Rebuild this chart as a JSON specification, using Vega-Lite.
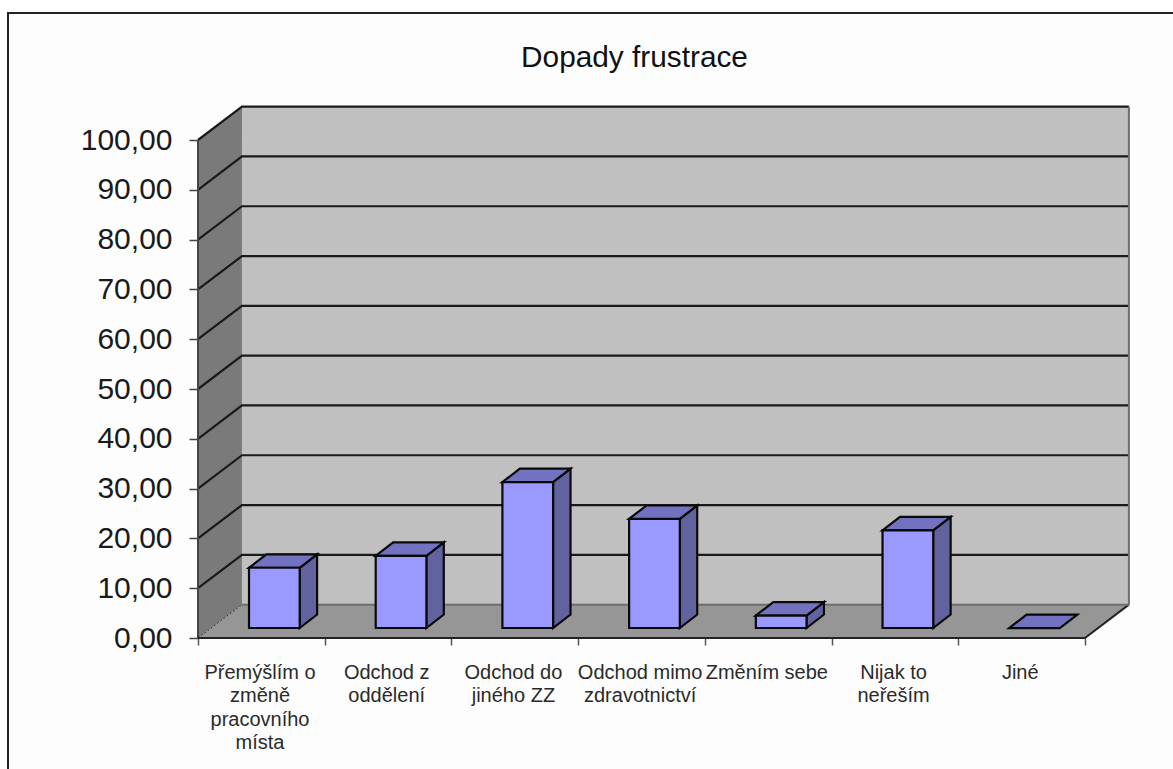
{
  "$schema": "https://vega.github.io/schema/vega-lite/v6.json",
  "width": 1165,
  "height": 756,
  "padding": {"left": 8, "top": 13, "right": 0, "bottom": 0},
  "autosize": {"type": "none"},
  "background": "white",
  "title": {
    "text": "Dopady frustrace",
    "font": "Liberation Sans",
    "fontSize": 29.8,
    "fontWeight": "normal",
    "color": "#111111",
    "anchor": "middle",
    "frame": "group",
    "offset": 0,
    "dx": 44,
    "dy": 64
  },
  "config": {"view": {"fill": "#fdfdfd", "stroke": null}},
  "datasets": {
    "bars": [
      {"category": "Přemýšlím o\nzměně\npracovního\nmísta", "slot": 0, "value": 12.1},
      {"category": "Odchod z\noddělení", "slot": 1, "value": 14.5},
      {"category": "Odchod do\njiného ZZ", "slot": 2, "value": 29.3},
      {"category": "Odchod mimo\nzdravotnictví", "slot": 3, "value": 21.9},
      {"category": "Změním sebe", "slot": 4, "value": 2.5},
      {"category": "Nijak to\nneřeším", "slot": 5, "value": 19.6},
      {"category": "Jiné", "slot": 6, "value": 0}
    ],
    "surfaces": [
      {"part": "floor", "face": "floor", "x": 0, "low": 0, "high": 0},
      {"part": "floor", "face": "floor", "x": 0.347, "low": 0, "high": 6.7},
      {"part": "floor", "face": "floor", "x": 7, "low": 0, "high": 6.7},
      {"part": "floor", "face": "floor", "x": 7.347, "low": 6.7, "high": 6.7},
      {"part": "side", "face": "sideWall", "x": 0, "low": 0, "high": 100},
      {"part": "side", "face": "sideWall", "x": 0.347, "low": 6.7, "high": 106.7},
      {"part": "back", "face": "backWall", "x": 0.347, "low": 6.7, "high": 106.7},
      {"part": "back", "face": "backWall", "x": 7.347, "low": 6.7, "high": 106.7}
    ],
    "barFaces": [
      {"part": "s0", "face": "barSide", "x": 0.802, "low": 2, "high": 14.1},
      {"part": "s0", "face": "barSide", "x": 0.94, "low": 4.71, "high": 16.81},
      {"part": "t0", "face": "barTop", "x": 0.402, "low": 14.1, "high": 14.1},
      {"part": "t0", "face": "barTop", "x": 0.54, "low": 14.1, "high": 16.81},
      {"part": "t0", "face": "barTop", "x": 0.802, "low": 14.1, "high": 16.81},
      {"part": "t0", "face": "barTop", "x": 0.94, "low": 16.81, "high": 16.81},
      {"part": "s1", "face": "barSide", "x": 1.802, "low": 2, "high": 16.5},
      {"part": "s1", "face": "barSide", "x": 1.94, "low": 4.71, "high": 19.21},
      {"part": "t1", "face": "barTop", "x": 1.402, "low": 16.5, "high": 16.5},
      {"part": "t1", "face": "barTop", "x": 1.54, "low": 16.5, "high": 19.21},
      {"part": "t1", "face": "barTop", "x": 1.802, "low": 16.5, "high": 19.21},
      {"part": "t1", "face": "barTop", "x": 1.94, "low": 19.21, "high": 19.21},
      {"part": "s2", "face": "barSide", "x": 2.802, "low": 2, "high": 31.3},
      {"part": "s2", "face": "barSide", "x": 2.94, "low": 4.71, "high": 34.01},
      {"part": "t2", "face": "barTop", "x": 2.402, "low": 31.3, "high": 31.3},
      {"part": "t2", "face": "barTop", "x": 2.54, "low": 31.3, "high": 34.01},
      {"part": "t2", "face": "barTop", "x": 2.802, "low": 31.3, "high": 34.01},
      {"part": "t2", "face": "barTop", "x": 2.94, "low": 34.01, "high": 34.01},
      {"part": "s3", "face": "barSide", "x": 3.802, "low": 2, "high": 23.9},
      {"part": "s3", "face": "barSide", "x": 3.94, "low": 4.71, "high": 26.61},
      {"part": "t3", "face": "barTop", "x": 3.402, "low": 23.9, "high": 23.9},
      {"part": "t3", "face": "barTop", "x": 3.54, "low": 23.9, "high": 26.61},
      {"part": "t3", "face": "barTop", "x": 3.802, "low": 23.9, "high": 26.61},
      {"part": "t3", "face": "barTop", "x": 3.94, "low": 26.61, "high": 26.61},
      {"part": "s4", "face": "barSide", "x": 4.802, "low": 2, "high": 4.5},
      {"part": "s4", "face": "barSide", "x": 4.94, "low": 4.71, "high": 7.21},
      {"part": "t4", "face": "barTop", "x": 4.402, "low": 4.5, "high": 4.5},
      {"part": "t4", "face": "barTop", "x": 4.54, "low": 4.5, "high": 7.21},
      {"part": "t4", "face": "barTop", "x": 4.802, "low": 4.5, "high": 7.21},
      {"part": "t4", "face": "barTop", "x": 4.94, "low": 7.21, "high": 7.21},
      {"part": "s5", "face": "barSide", "x": 5.802, "low": 2, "high": 21.6},
      {"part": "s5", "face": "barSide", "x": 5.94, "low": 4.71, "high": 24.31},
      {"part": "t5", "face": "barTop", "x": 5.402, "low": 21.6, "high": 21.6},
      {"part": "t5", "face": "barTop", "x": 5.54, "low": 21.6, "high": 24.31},
      {"part": "t5", "face": "barTop", "x": 5.802, "low": 21.6, "high": 24.31},
      {"part": "t5", "face": "barTop", "x": 5.94, "low": 24.31, "high": 24.31},
      {"part": "t6", "face": "barTop", "x": 6.402, "low": 2, "high": 2},
      {"part": "t6", "face": "barTop", "x": 6.54, "low": 2, "high": 4.71},
      {"part": "t6", "face": "barTop", "x": 6.802, "low": 2, "high": 4.71},
      {"part": "t6", "face": "barTop", "x": 6.94, "low": 4.71, "high": 4.71}
    ],
    "gridLines": [
      {"level": 10, "x": 0, "y": 10}, {"level": 10, "x": 0.347, "y": 16.7}, {"level": 10, "x": 7.347, "y": 16.7},
      {"level": 20, "x": 0, "y": 20}, {"level": 20, "x": 0.347, "y": 26.7}, {"level": 20, "x": 7.347, "y": 26.7},
      {"level": 30, "x": 0, "y": 30}, {"level": 30, "x": 0.347, "y": 36.7}, {"level": 30, "x": 7.347, "y": 36.7},
      {"level": 40, "x": 0, "y": 40}, {"level": 40, "x": 0.347, "y": 46.7}, {"level": 40, "x": 7.347, "y": 46.7},
      {"level": 50, "x": 0, "y": 50}, {"level": 50, "x": 0.347, "y": 56.7}, {"level": 50, "x": 7.347, "y": 56.7},
      {"level": 60, "x": 0, "y": 60}, {"level": 60, "x": 0.347, "y": 66.7}, {"level": 60, "x": 7.347, "y": 66.7},
      {"level": 70, "x": 0, "y": 70}, {"level": 70, "x": 0.347, "y": 76.7}, {"level": 70, "x": 7.347, "y": 76.7},
      {"level": 80, "x": 0, "y": 80}, {"level": 80, "x": 0.347, "y": 86.7}, {"level": 80, "x": 7.347, "y": 86.7},
      {"level": 90, "x": 0, "y": 90}, {"level": 90, "x": 0.347, "y": 96.7}, {"level": 90, "x": 7.347, "y": 96.7},
      {"level": 100, "x": 0, "y": 100}, {"level": 100, "x": 0.347, "y": 106.7}, {"level": 100, "x": 7.347, "y": 106.7}
    ],
    "edges": [
      {"edge": "axis", "kind": "dark", "x": 0, "y": 100},
      {"edge": "axis", "kind": "dark", "x": 0, "y": 0},
      {"edge": "front", "kind": "black", "x": 0, "y": 0},
      {"edge": "front", "kind": "black", "x": 7, "y": 0},
      {"edge": "front", "kind": "black", "x": 7.347, "y": 6.7},
      {"edge": "wallFoot", "kind": "grey", "x": 0.347, "y": 6.7},
      {"edge": "wallFoot", "kind": "grey", "x": 7.347, "y": 6.7},
      {"edge": "wallRight", "kind": "grey", "x": 7.347, "y": 6.7},
      {"edge": "wallRight", "kind": "grey", "x": 7.347, "y": 106.7},
      {"edge": "frame", "kind": "black", "x": -1.4996, "y": -26.3},
      {"edge": "frame", "kind": "black", "x": -1.4996, "y": 125.5},
      {"edge": "frame", "kind": "black", "x": 7.695, "y": 125.5}
    ],
    "floorSeam": [
      {"x": 0, "y": 0},
      {"x": 0.347, "y": 6.7}
    ]
  },
  "layer": [
    {
      "data": {"name": "surfaces"},
      "mark": {"type": "area", "interpolate": "linear"},
      "encoding": {
        "x": {
          "field": "x", "type": "quantitative",
          "scale": {"domain": [-1.4996, 7.695], "nice": false, "zero": false},
          "axis": {
            "title": null, "values": [0, 1, 2, 3, 4, 5, 6, 7], "labels": false, "grid": false, "domain": false,
            "tickSize": 7, "tickWidth": 1.5, "tickColor": "#555555", "offset": -131
          }
        },
        "y": {
          "field": "high", "type": "quantitative",
          "scale": {"domain": [-26.305, 125.502], "nice": false, "zero": false},
          "axis": {
            "title": null, "values": [0, 10, 20, 30, 40, 50, 60, 70, 80, 90, 100], "grid": false, "domain": false,
            "labelExpr": "replace(format(datum.value, '.2f'), '.', ',')",
            "labelFont": "Liberation Sans", "labelFontSize": 30, "labelColor": "#1a1a1a", "labelPadding": 17,
            "tickSize": 9, "tickWidth": 1.5, "tickColor": "#444444", "offset": -190
          }
        },
        "y2": {"field": "low"},
        "detail": {"field": "part"},
        "color": {
          "field": "face", "type": "nominal", "legend": null,
          "scale": {"domain": ["floor", "sideWall", "backWall"], "range": ["#969696", "#7a7a7a", "#c0c0c0"]}
        }
      }
    },
    {
      "data": {"name": "gridLines"},
      "mark": {"type": "line", "stroke": "#1a1a1a", "strokeWidth": 2.2, "interpolate": "linear"},
      "encoding": {
        "x": {"field": "x", "type": "quantitative"},
        "y": {"field": "y", "type": "quantitative"},
        "detail": {"field": "level"},
        "order": {"field": "x"}
      }
    },
    {
      "data": {"name": "floorSeam"},
      "mark": {"type": "line", "stroke": "#333333", "strokeWidth": 1, "strokeDash": [2, 2]},
      "encoding": {
        "x": {"field": "x", "type": "quantitative"},
        "y": {"field": "y", "type": "quantitative"}
      }
    },
    {
      "data": {"name": "edges"},
      "mark": {"type": "line", "strokeWidth": 2, "interpolate": "linear"},
      "encoding": {
        "x": {"field": "x", "type": "quantitative"},
        "y": {"field": "y", "type": "quantitative"},
        "detail": {"field": "edge"},
        "order": {"value": 0},
        "stroke": {
          "field": "kind", "type": "nominal", "legend": null,
          "scale": {"domain": ["black", "dark", "grey"], "range": ["#222222", "#444444", "#6e6e6e"]}
        }
      }
    },
    {
      "data": {"name": "barFaces"},
      "mark": {"type": "area", "stroke": "#0a0a0a", "strokeWidth": 2.2, "interpolate": "linear"},
      "encoding": {
        "x": {"field": "x", "type": "quantitative"},
        "y": {"field": "high", "type": "quantitative"},
        "y2": {"field": "low"},
        "detail": {"field": "part"},
        "fill": {
          "field": "face", "type": "nominal", "legend": null,
          "scale": {"domain": ["barSide", "barTop"], "range": ["#62629f", "#7272c0"]}
        }
      }
    },
    {
      "data": {"name": "bars"},
      "mark": {
        "type": "rect", "fill": "#9999ff", "stroke": "#0a0a0a", "strokeWidth": 2.2,
        "xOffset": 51, "x2Offset": 101.7, "yOffset": -10, "y2Offset": -10
      },
      "encoding": {
        "x": {"field": "slot", "type": "quantitative"},
        "x2": {"field": "slot"},
        "y": {"field": "value", "type": "quantitative"},
        "y2": {"datum": 0}
      }
    },
    {
      "data": {"name": "bars"},
      "mark": {
        "type": "text", "font": "Liberation Sans", "fontSize": 20, "color": "#2a2a2a",
        "align": "center", "baseline": "top", "lineBreak": "\n", "lineHeight": 23.5, "dx": 62
      },
      "encoding": {
        "x": {"field": "slot", "type": "quantitative"},
        "y": {"datum": -5, "type": "quantitative"},
        "text": {"field": "category"}
      }
    }
  ]
}
